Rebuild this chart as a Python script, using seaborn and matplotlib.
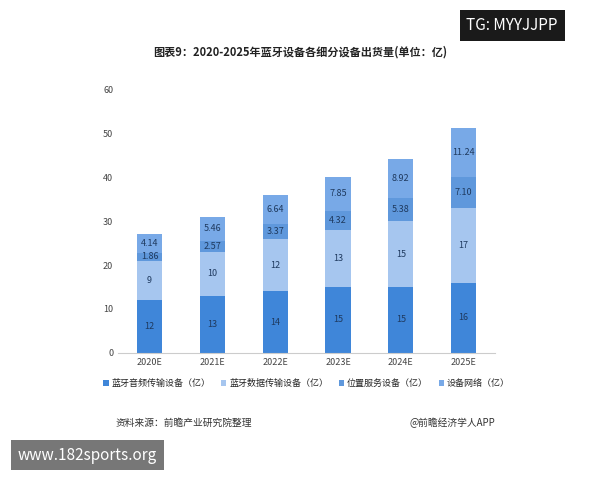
import matplotlib
matplotlib.use('Agg')
import matplotlib.pyplot as plt
import seaborn as sns
import pandas as pd
import numpy as np

years = ['2020E', '2021E', '2022E', '2023E', '2024E', '2025E']
audio = [12, 13, 14, 15, 15, 16]
data = [9, 10, 12, 13, 15, 17]
location = [1.86, 2.57, 3.37, 4.32, 5.38, 7.10]
network = [4.14, 5.46, 6.64, 7.85, 8.92, 11.24]
series_names = ['蓝牙音频传输设备（亿）', '蓝牙数据传输设备（亿）', '位置服务设备（亿）', '设备网络（亿）']
label_fmt = ['{:.0f}', '{:.0f}', '{:.2f}', '{:.2f}']
colors = ['#3f86d9', '#a6c6ef', '#5f98dc', '#78a9e7']

sns.set_style('white')
plt.rcParams['font.family'] = ['Noto Sans CJK SC', 'DejaVu Sans']

fig = plt.figure(figsize=(6, 4.8), dpi=100)
ax = fig.add_axes([0.197, 0.265, 0.628, 0.548])

df = pd.DataFrame({'year': years})
bottom = np.zeros(len(years))
for name, vals, fmt, c in zip(series_names, [audio, data, location, network], label_fmt, colors):
    df['v'] = vals
    df['b'] = bottom
    sns.barplot(data=df, x='year', y='v', bottom=df['b'], color=c, width=0.4,
                saturation=1, ax=ax, label=name, linewidth=0, edgecolor='none')
    for i, v in enumerate(vals):
        ax.text(i, bottom[i] + v / 2, fmt.format(v), ha='center', va='center',
                fontsize=6.5, color='#1f3a5f')
    bottom = bottom + np.array(vals)

ax.set_ylim(0, 60)
ax.set_yticks(range(0, 61, 10))
ax.set_xlabel('')
ax.set_ylabel('')
ax.tick_params(axis='both', labelsize=6.5, colors='#444444', length=0)
for s in ['top', 'right', 'left']:
    ax.spines[s].set_visible(False)
ax.spines['bottom'].set_color('#cccccc')
ax.legend(loc='upper center', bbox_to_anchor=(0.5, -0.07), ncol=4, frameon=False,
          fontsize=6.5, handlelength=0.6, handleheight=0.6, handletextpad=0.3, columnspacing=1.2)

fig.text(0.5, 0.885, '图表9：2020-2025年蓝牙设备各细分设备出货量(单位：亿)', ha='center',
         fontsize=8, fontweight='bold', color='#222222')
fig.text(0.193, 0.112, '资料来源：前瞻产业研究院整理', fontsize=7, color='#333333')
fig.text(0.825, 0.112, '@前瞻经济学人APP', fontsize=7, color='#333333', ha='right')
fig.text(0.93, 0.947, 'TG: MYYJJPP', fontsize=11, color='white', ha='right', va='center',
         bbox=dict(boxstyle='square,pad=0.45', fc='#1a1a1a', ec='none'))
fig.text(0.03, 0.052, 'www.182sports.org', fontsize=11, color='white', ha='left', va='center',
         bbox=dict(boxstyle='square,pad=0.45', fc='#777777', ec='none'))

fig.savefig('out.png', dpi=100)
